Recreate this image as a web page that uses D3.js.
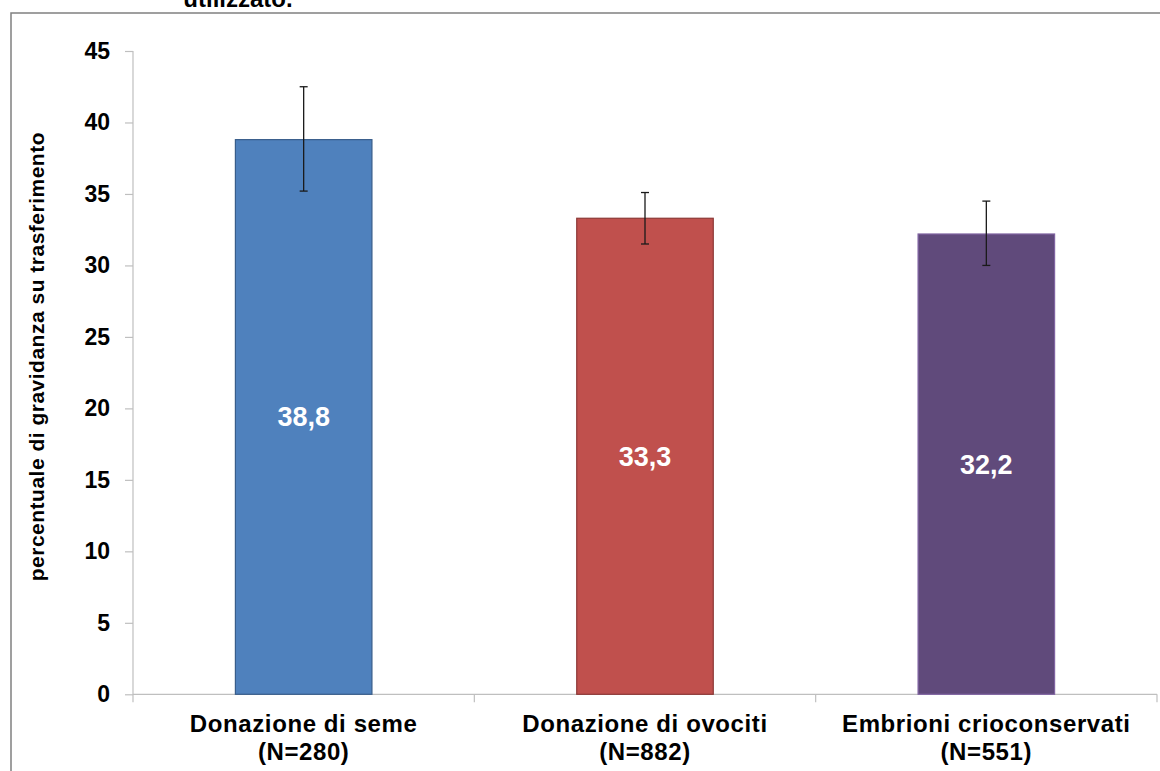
<!DOCTYPE html>
<html>
<head>
<meta charset="utf-8">
<script src="https://cdn.jsdelivr.net/npm/d3@7"></script>
<style>
  html, body { margin: 0; padding: 0; background: #ffffff; }
  svg { display: block; font-family: "Liberation Sans", Arial, Helvetica, sans-serif; }
</style>
</head>
<body>
<svg id="chart" width="1160" height="771"></svg>
<script>
// ---- data ----
const categories = ["Donazione di seme", "Donazione di ovociti", "Embrioni crioconservati"];
const sampleSizes = ["(N=280)", "(N=882)", "(N=551)"];
const values = [38.8, 33.3, 32.2];
const valueLabels = ["38,8", "33,3", "32,2"];
const errorHigh = [42.5, 35.1, 34.5];
const errorLow = [35.2, 31.5, 30.0];
const yTicks = [0, 5, 10, 15, 20, 25, 30, 35, 40, 45];
const titleTail = "utilizzato.";
const yTitle = "percentuale di gravidanza su trasferimento";

// ---- styles ----
const fills = ["#4f81bd", "#c0504d", "#604a7b"];
const strokes = ["#385d8a", "#8c3836", "#8064a2"];

const svg = d3.select("#chart");
const plot = { left: 133, right: 1157, top: 51, bottom: 694.3 };

const x = d3.scaleBand()
  .domain(categories)
  .range([plot.left, plot.right])
  .paddingInner(0.6)
  .paddingOuter(0.3);
const xStep = x.step();

const y = d3.scaleLinear().domain([0, 45]).range([plot.bottom, plot.top]);

// frame
svg.append("rect")
  .attr("x", 11).attr("y", 13)
  .attr("width", 1200).attr("height", 800)
  .attr("fill", "none")
  .attr("stroke", "#808080")
  .attr("stroke-width", 1.5);

// partially visible title line (cut off at the top, as in the reference)
svg.append("text")
  .attr("x", 238).attr("y", 7)
  .attr("text-anchor", "middle")
  .attr("font-size", 24)
  .attr("font-weight", "bold")
  .attr("fill", "#000")
  .text(titleTail);

// y axis
const yAxis = svg.append("g")
  .attr("transform", `translate(${plot.left},0)`)
  .call(d3.axisLeft(y).tickValues(yTicks).tickSize(8).tickPadding(15).tickFormat(d3.format("d")));
yAxis.select(".domain").attr("stroke", "#bfbfbf").attr("stroke-width", 1.2).attr("d", `M0,${plot.top}V${plot.bottom}`);
yAxis.selectAll(".tick line").attr("stroke", "#bfbfbf").attr("stroke-width", 1.2);
yAxis.selectAll(".tick text")
  .attr("font-size", 23).attr("font-weight", "bold").attr("fill", "#000")
  .attr("font-family", "'Liberation Sans', Arial, sans-serif");

// x axis baseline with category boundary ticks
const xAxisG = svg.append("g");
xAxisG.append("line")
  .attr("x1", plot.left).attr("x2", plot.right)
  .attr("y1", y(0)).attr("y2", y(0))
  .attr("stroke", "#bfbfbf").attr("stroke-width", 1.2);
const boundaries = categories.map(c => x(c) - xStep * 0.3).concat([plot.right]);
xAxisG.selectAll("line.bound")
  .data(boundaries)
  .enter().append("line")
  .attr("class", "bound")
  .attr("x1", d => d).attr("x2", d => d)
  .attr("y1", y(0)).attr("y2", y(0) + 8)
  .attr("stroke", "#bfbfbf").attr("stroke-width", 1.2);

// bars
svg.selectAll("rect.bar")
  .data(categories)
  .enter().append("rect")
  .attr("class", "bar")
  .attr("x", d => x(d))
  .attr("y", (d, i) => y(values[i]))
  .attr("width", x.bandwidth())
  .attr("height", (d, i) => y(0) - y(values[i]))
  .attr("fill", (d, i) => fills[i])
  .attr("stroke", (d, i) => strokes[i])
  .attr("stroke-width", 1.2);

// error bars
const eb = svg.append("g").attr("stroke", "#1a1a1a").attr("stroke-width", 1.3);
categories.forEach((c, i) => {
  const cx = x(c) + x.bandwidth() / 2;
  eb.append("line").attr("x1", cx).attr("x2", cx).attr("y1", y(errorHigh[i])).attr("y2", y(errorLow[i]));
  eb.append("line").attr("x1", cx - 4).attr("x2", cx + 4).attr("y1", y(errorHigh[i])).attr("y2", y(errorHigh[i]));
  eb.append("line").attr("x1", cx - 4).attr("x2", cx + 4).attr("y1", y(errorLow[i])).attr("y2", y(errorLow[i]));
});

// value labels
svg.selectAll("text.val")
  .data(categories)
  .enter().append("text")
  .attr("class", "val")
  .attr("x", d => x(d) + x.bandwidth() / 2)
  .attr("y", (d, i) => (y(values[i]) + y(0)) / 2)
  .attr("dy", "0.35em")
  .attr("text-anchor", "middle")
  .attr("font-size", 27)
  .attr("font-weight", "bold")
  .attr("fill", "#ffffff")
  .text((d, i) => valueLabels[i]);

// category labels
const catG = svg.selectAll("text.cat")
  .data(categories)
  .enter().append("text")
  .attr("class", "cat")
  .attr("text-anchor", "middle")
  .attr("font-size", 24)
  .attr("font-weight", "bold")
  .attr("fill", "#000")
  .attr("letter-spacing", 0.6);
catG.append("tspan")
  .attr("x", d => x(d) + x.bandwidth() / 2)
  .attr("y", 732)
  .text(d => d);
catG.append("tspan")
  .attr("x", d => x(d) + x.bandwidth() / 2)
  .attr("y", 760)
  .text((d, i) => sampleSizes[i]);

// y axis title
svg.append("text")
  .attr("transform", `translate(44,${(plot.top + plot.bottom) / 2 - 16}) rotate(-90)`)
  .attr("text-anchor", "middle")
  .attr("font-size", 21)
  .attr("font-weight", "bold")
  .attr("fill", "#000")
  .attr("letter-spacing", 0.5)
  .text(yTitle);
</script>
</body>
</html>
